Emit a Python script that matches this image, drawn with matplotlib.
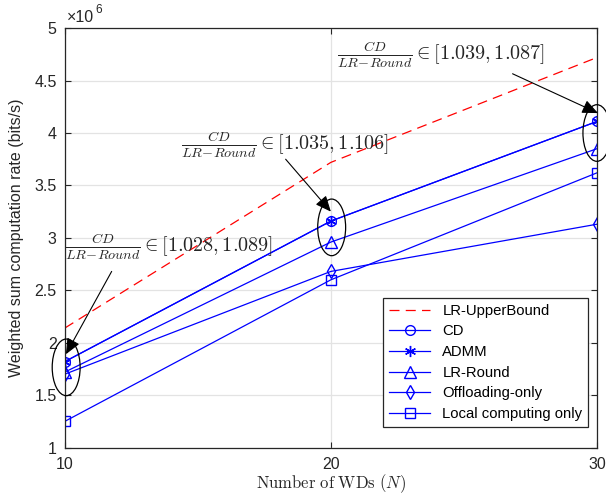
import matplotlib
matplotlib.use('Agg')
import matplotlib.pyplot as plt
from matplotlib.patches import Ellipse
from matplotlib.ticker import FuncFormatter

plt.rcParams['font.family'] = ['Liberation Sans', 'DejaVu Sans']
plt.rcParams['mathtext.fontset'] = 'cm'

# number of WDs
n_wds = [10, 20, 30]

# weighted sum computation rate, in units of 1e6 bits/s
upper_bound = [2.14, 3.72, 4.72]
cd = [1.82, 3.16, 4.11]
admm = [1.82, 3.16, 4.11]
lr_round = [1.72, 2.96, 3.85]
offloading_only = [1.70, 2.68, 3.13]
local_only = [1.25, 2.60, 3.62]

# ratio annotations
ratio_labels = [r'$\frac{CD}{LR\!-\!Round} \in [1.028, 1.089]$',
                r'$\frac{CD}{LR\!-\!Round} \in [1.035, 1.106]$',
                r'$\frac{CD}{LR\!-\!Round} \in [1.039, 1.087]$']

fig = plt.figure(figsize=(6.06, 4.94), dpi=100)
ax = fig.add_axes([0.107, 0.094, 0.878, 0.849])

blue = (0, 0, 1)
ax.plot(n_wds, upper_bound, '--', color='r', lw=0.9, dashes=(8, 5), label='LR-UpperBound')
ax.plot(n_wds, cd, '-o', color=blue, lw=0.9, ms=7, mfc='none', label='CD')
ax.plot(n_wds, admm, '-', marker=(6, 2, 0), color=blue, lw=0.9, ms=8, label='ADMM')
ax.plot(n_wds, lr_round, '-^', color=blue, lw=0.9, ms=8, mfc='none', label='LR-Round')
ax.plot(n_wds, offloading_only, '-d', color=blue, lw=0.9, ms=7, mfc='none', label='Offloading-only')
ax.plot(n_wds, local_only, '-s', color=blue, lw=0.9, ms=6.5, mfc='none', label='Local computing only')

# ellipses round the CD / ADMM / LR-Round groups
for cx, cy in [(10.05, 1.765), (20.03, 3.10), (30.0, 4.0)]:
    ax.add_patch(Ellipse((cx, cy), 1.05, 0.54, fill=False, ec='k', lw=0.9,
                         clip_on=False, zorder=5))

# ratio texts and arrows
text_pos = [(13.9, 2.92), (18.29, 3.89), (24.12, 4.745)]
arrow_tail = [(11.76, 2.68), (18.30, 3.75), (26.83, 4.565)]
arrow_head = [(10.04, 1.89), (20.0, 3.25), (30.04, 4.19)]
for lab, tp, tl, hd in zip(ratio_labels, text_pos, arrow_tail, arrow_head):
    ax.text(tp[0], tp[1], lab, ha='center', va='center', fontsize=14.5, color='#262626')
    ax.annotate('', xy=hd, xytext=tl,
                arrowprops=dict(arrowstyle='-|>,head_length=0.8,head_width=0.35', color='k',
                                lw=0.8, mutation_scale=12, shrinkA=0, shrinkB=0),
                annotation_clip=False, zorder=6)

ax.set_xlim(10, 30)
ax.set_ylim(1, 5)
ax.set_xticks([10, 20, 30])
ax.set_yticks([1, 1.5, 2, 2.5, 3, 3.5, 4, 4.5, 5])
ax.yaxis.set_major_formatter(FuncFormatter(lambda v, p: '%g' % v))
ax.grid(True, color='#e3e3e3', lw=0.9)
ax.set_axisbelow(True)
ax.tick_params(direction='in', top=True, right=True, labelsize=11.5, colors='#262626', length=4)
ax.tick_params(axis='y', pad=6)
ax.tick_params(axis='x', pad=7)
for s in ax.spines.values():
    s.set_color('#262626')
    s.set_linewidth(0.9)

# x10^6 multiplier
ax.text(0.003, 1.008, '\u00d710', transform=ax.transAxes, fontsize=11.5,
        ha='left', va='bottom', color='#262626')
ax.text(0.058, 1.028, '6', transform=ax.transAxes, fontsize=8.5,
        ha='left', va='bottom', color='#262626')
ax.set_ylabel('Weighted sum computation rate (bits/s)', fontsize=11.5, color='#262626', labelpad=7)
ax.set_xlabel(r'$\mathrm{Number\ of\ WDs}\ (N)$', fontsize=12, color='#262626', labelpad=0)

leg = ax.legend(loc='lower right', fontsize=10.7, fancybox=False, framealpha=1,
                edgecolor='#262626', handlelength=2.8, borderpad=0.4, labelspacing=0.45,
                bbox_to_anchor=(0.998, 0.031))
leg.get_frame().set_linewidth(0.9)

fig.savefig('out.png', dpi=100)
